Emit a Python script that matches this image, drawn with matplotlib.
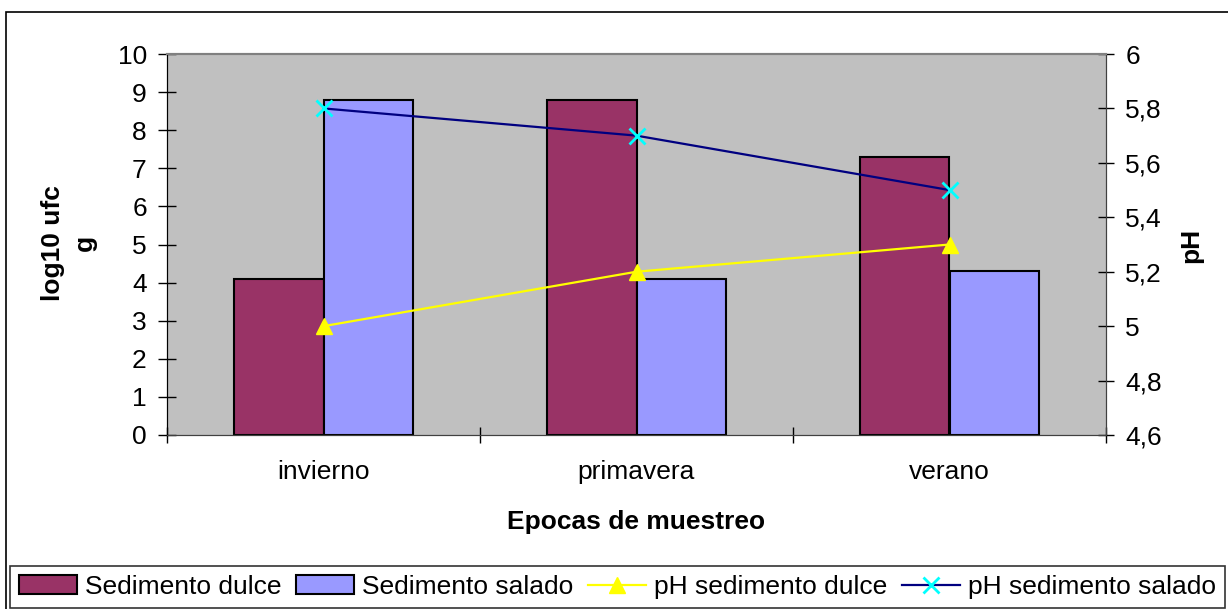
import matplotlib
matplotlib.use("Agg")
import matplotlib.pyplot as plt
import numpy as np
from matplotlib.patches import Rectangle, Patch
from matplotlib.lines import Line2D

plt.rcParams['font.family'] = ['Liberation Sans', 'DejaVu Sans']

categories = ["invierno", "primavera", "verano"]
sed_dulce = [4.1, 8.8, 7.3]
sed_salado = [8.8, 4.1, 4.3]
ph_dulce = [5.0, 5.2, 5.3]
ph_salado = [5.8, 5.7, 5.5]
left_ticks = [0, 1, 2, 3, 4, 5, 6, 7, 8, 9, 10]
right_ticks = [4.6, 4.8, 5.0, 5.2, 5.4, 5.6, 5.8, 6.0]
right_labels = ["4,6", "4,8", "5", "5,2", "5,4", "5,6", "5,8", "6"]

c_dulce = "#993366"
c_salado = "#9999FF"
FS = 19

fig = plt.figure(figsize=(12.28, 6.09), dpi=100)
ax = fig.add_axes([167/1228, 1-435/609, (1106-167)/1228, (435-54)/609])
ax.set_facecolor("#C0C0C0")

x = np.arange(len(categories))
w = 0.285
ax.bar(x - w/2, sed_dulce, w, color=c_dulce, edgecolor="black", linewidth=1.5, zorder=2)
ax.bar(x + w/2, sed_salado, w, color=c_salado, edgecolor="black", linewidth=1.5, zorder=2)
ax.set_ylim(0, 10)
ax.set_xlim(-0.5, len(categories) - 0.5)
ax.set_yticks(left_ticks)
ax.set_yticklabels([str(t) for t in left_ticks])
ax.set_xticks(x)
ax.set_xticklabels(categories)
ax.set_xticks(np.arange(-0.5, len(categories), 1.0), minor=True)
ax.tick_params(axis='x', which='major', length=0, pad=18, labelsize=FS)
ax.tick_params(axis='x', which='minor', length=12, direction='inout', width=1)
ax.tick_params(axis='y', length=13, direction='inout', width=1, pad=8, labelsize=FS)

ax2 = ax.twinx()
ax2.plot(x, ph_dulce, color="#FFFF00", linewidth=1.6, marker="^", markersize=11,
         markerfacecolor="#FFFF00", markeredgecolor="#FFFF00", zorder=3)
ax2.plot(x, ph_salado, color="#000080", linewidth=1.6, marker="x", markersize=11,
         markeredgecolor="#00FFFF", markeredgewidth=2, zorder=3)
ax2.set_ylim(4.6, 6.0)
ax2.set_yticks(right_ticks)
ax2.set_yticklabels(right_labels)
ax2.tick_params(axis='y', length=12, direction='inout', width=1, pad=8, labelsize=FS)

for a in (ax, ax2):
    a.spines['top'].set_color("#808080")
    a.spines['top'].set_linewidth(1.5)
    a.spines['bottom'].set_color("#404040")
    a.spines['left'].set_color("black")
    a.spines['right'].set_color("#404040")

ax.set_xlabel("Epocas de muestreo", fontsize=FS, fontweight='bold', labelpad=19)
fig.text(69/1228, 1-243/609, "log10 ufc\ng", rotation=90, fontsize=FS, fontweight='bold',
         ha='center', va='center', linespacing=1.4, multialignment='center')
fig.text(1191/1228, 1-245/609, "pH", rotation=90, fontsize=FS, fontweight='bold',
         ha='center', va='center')

handles = [
    Patch(facecolor=c_dulce, edgecolor="black", linewidth=1.5),
    Patch(facecolor=c_salado, edgecolor="black", linewidth=1.5),
    Line2D([0], [0], color="#FFFF00", linewidth=1.6, marker="^", markersize=11,
           markerfacecolor="#FFFF00", markeredgecolor="#FFFF00"),
    Line2D([0], [0], color="#000080", linewidth=1.6, marker="x", markersize=11,
           markeredgecolor="#00FFFF", markeredgewidth=2),
]
labels = ["Sedimento dulce", "Sedimento salado", "pH sedimento dulce", "pH sedimento salado"]
leg = fig.legend(handles, labels, ncol=4, loc='lower left',
                 bbox_to_anchor=(10/1228, 1/609), fontsize=FS, frameon=True,
                 fancybox=False, edgecolor="black", borderpad=0.35,
                 handlelength=2.2, handletextpad=0.3, columnspacing=0.55,
                 borderaxespad=0)
leg.get_frame().set_linewidth(1.2)

fig.patches.append(Rectangle((6/1228, -0.01), 1.1, 1-12/609+0.01, transform=fig.transFigure,
                             fill=False, edgecolor="black", linewidth=1.2))

fig.savefig("out.png", dpi=100)
